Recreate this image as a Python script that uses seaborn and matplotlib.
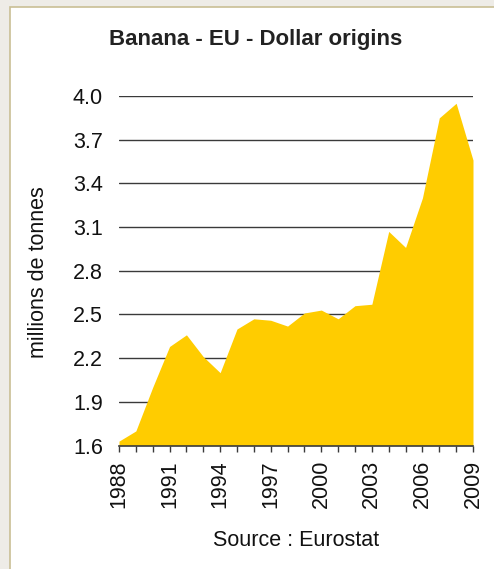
import matplotlib
matplotlib.use("Agg")
import matplotlib.pyplot as plt
from matplotlib.patches import Rectangle
import seaborn as sns
import pandas as pd

# Banana imports into the EU from "dollar" origins, millions of tonnes
years = list(range(1988, 2010))
volumes = [1.63, 1.70, 2.00, 2.28, 2.36, 2.21, 2.10, 2.40, 2.47, 2.46, 2.42,
           2.51, 2.53, 2.47, 2.56, 2.57, 3.07, 2.96, 3.30, 3.85, 3.95, 3.56]
y_ticks = [1.6, 1.9, 2.2, 2.5, 2.8, 3.1, 3.4, 3.7, 4.0]
x_label_years = list(range(1988, 2010, 3))

title = "Banana - EU - Dollar origins"
y_title = "millions de tonnes"
source = "Source : Eurostat"

df = pd.DataFrame({"year": years, "volume": volumes})

sns.set_theme(style="white")
plt.rcParams["font.family"] = ["Liberation Sans", "DejaVu Sans"]

W, H = 494, 569
fig = plt.figure(figsize=(W / 100, H / 100), dpi=100)
fig.patch.set_facecolor("#EEECE7")

# white card with a thin tan border, kept behind the axes
card = Rectangle((9.5 / W, -0.05), 1.2, 1 - 6.5 / H + 0.05,
                 transform=fig.transFigure, facecolor="#FFFFFF",
                 edgecolor="#C9BF95", linewidth=1.2, zorder=-10)
fig.patches.append(card)

ax = fig.add_axes([119 / W, 123.5 / H, (473 - 119) / W, (445.5 - 96) / H])
ax.set_facecolor("none")
ax.set_zorder(1)

sns.lineplot(data=df, x="year", y="volume", ax=ax, color="#FFCC00",
             linewidth=0, zorder=3)
ax.fill_between(df["year"], df["volume"], 1.6, color="#FFCC00",
                linewidth=0, zorder=3)

ax.set_xlim(1988, 2009)
ax.set_ylim(1.6, 4.0)

ax.set_yticks(y_ticks)
ax.set_yticklabels([f"{v:.1f}" for v in y_ticks])
for v in y_ticks[1:]:
    ax.axhline(v, color="#3A3A3A", linewidth=1.0, zorder=2)

ax.set_xticks(years)
ax.set_xticklabels([str(y) if y in x_label_years else "" for y in years],
                   rotation=90)

ax.tick_params(axis="y", length=0, pad=11.5, labelsize=15.5, colors="#111111")
ax.tick_params(axis="x", length=4.5, width=1.0, pad=6, labelsize=15.5,
               colors="#3A3A3A", labelcolor="#111111", direction="out",
               bottom=True)

for side in ("top", "right", "left"):
    ax.spines[side].set_visible(False)
ax.spines["bottom"].set_color("#3A3A3A")
ax.spines["bottom"].set_linewidth(1.2)
ax.spines["bottom"].set_zorder(4)

ax.set_xlabel("")
ax.set_ylabel("")

fig.text(0.518, 1 - 40 / H, title, ha="center", va="center",
         fontsize=16, fontweight="bold", color="#222222")
fig.text(38 / W, 1 - 272 / H, y_title, ha="center", va="center",
         rotation=90, fontsize=15.5, color="#111111")
fig.text(296.5 / W, 1 - 541 / H, source, ha="center", va="center",
         fontsize=15.5, color="#111111")

fig.savefig("out.png", dpi=100, facecolor=fig.get_facecolor())
